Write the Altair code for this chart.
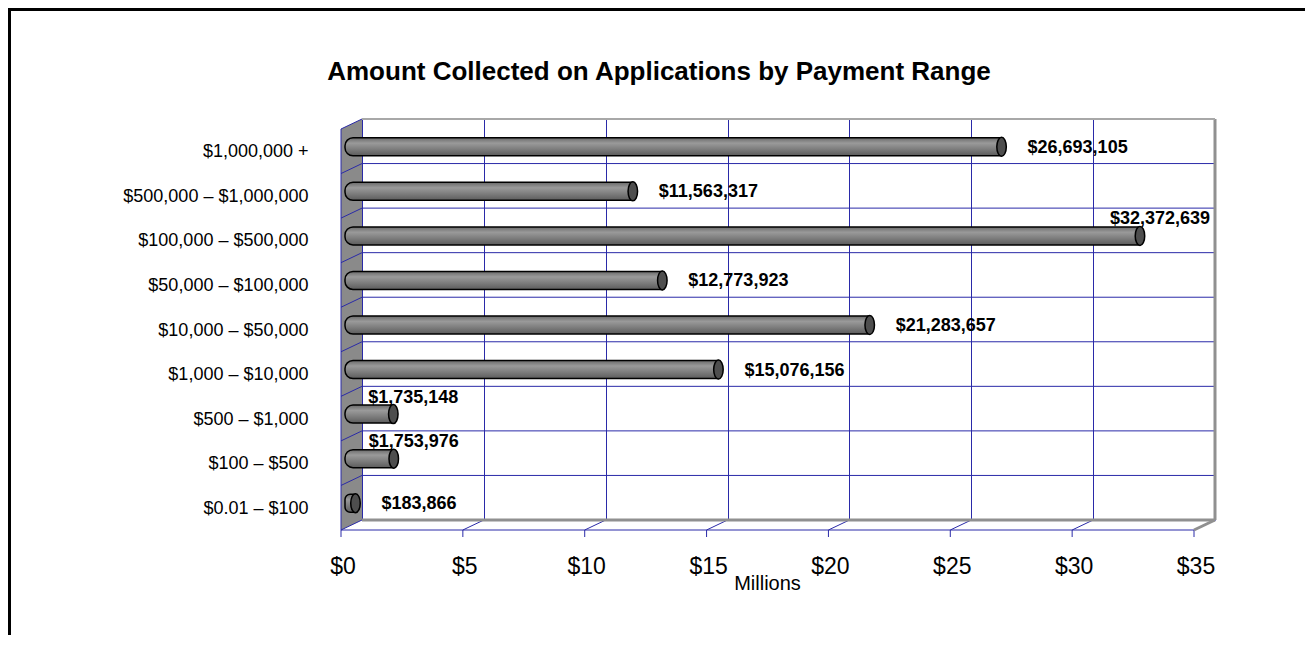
import altair as alt
import pandas as pd

# ---------------- data ----------------
categories = [
    "$1,000,000 +",
    "$500,000 – $1,000,000",
    "$100,000 – $500,000",
    "$50,000 – $100,000",
    "$10,000 – $50,000",
    "$1,000 – $10,000",
    "$500 – $1,000",
    "$100 – $500",
    "$0.01 – $100",
]
amounts = [26693105, 11563317, 32372639, 12773923, 21283657, 15076156, 1735148, 1753976, 183866]
x_ticks = [0, 5, 10, 15, 20, 25, 30, 35]
labels_above = ["$100,000 – $500,000", "$500 – $1,000", "$100 – $500"]
title_text = "Amount Collected on Applications by Payment Range"
x_title = "Millions"

df = pd.DataFrame({"range": categories, "amount": amounts})
df["millions"] = df["amount"] / 1e6
df["label"] = ["${:,}".format(a) for a in amounts]
df["above"] = df["range"].isin(labels_above)

ticks_df = pd.DataFrame({"tick": x_ticks, "bottom": categories[-1]})
edges_df = pd.DataFrame({"top": [categories[0]], "bottom": [categories[-1]]})
mid_df = df.iloc[[len(categories) // 2]]

# ---------------- style ----------------
FONT = "Liberation Sans"
GRID = "#2a2aa8"
WALL = "#8a8a8a"
EDGE = "#909090"
XMAX = x_ticks[-1]
DX, DY = 21, 10          # oblique depth of the 3-D box
W, H = 853, 401
PAD = {"left": 354, "top": 111, "right": 90, "bottom": 115}

ysc = alt.Scale(domain=categories, paddingInner=0, paddingOuter=0)
xsc = alt.Scale(domain=[0, XMAX], nice=False, zero=True)

x_axis = alt.Axis(
    values=x_ticks, labelExpr="'$' + datum.value",
    grid=True, gridColor=GRID, gridWidth=1,
    domain=False, ticks=False, labelFlush=False, labelOverlap=False,
    labelOffset=-19.5, labelPadding=53.5, labelBaseline="alphabetic",
    labelFont=FONT, labelFontSize=23, labelColor="black",
    title=x_title, titleFont=FONT, titleFontSize=20, titleFontWeight="normal",
    titleColor="black", titleX=405, titleY=69, titleBaseline="alphabetic",
    titleAlign="center", titleAnchor="middle",
)
y_axis = alt.Axis(
    title=None, domain=False, ticks=False, tickSize=0, grid=False,
    labelPadding=54, labelOffset=11, labelFont=FONT, labelFontSize=18,
    labelColor="black", labelAlign="right", labelBaseline="middle", labelLimit=400,
)

def xd(v):
    return alt.X(datum=v, type="quantitative", scale=xsc)

def x2d(v):
    return alt.X2(datum=v)

# ---------------- back wall horizontal grid (carries the axes) ----------------
hgrid = alt.Chart(df).mark_rule(color=GRID, strokeWidth=1).encode(
    y=alt.Y("range:N", bandPosition=0, scale=ysc, axis=y_axis, sort=categories),
    x=alt.X(datum=0, type="quantitative", scale=xsc, axis=x_axis),
    x2=x2d(XMAX),
)

# ---------------- left wall ----------------
wall_path = "M-0.0511,-0.9513 L0.0511,-1 L0.0511,0.9513 L-0.0511,1 Z"
left_wall = alt.Chart(mid_df).mark_point(
    shape=wall_path, size=(H + DY) ** 2, filled=True, fill=WALL, opacity=1,
    strokeWidth=0, xOffset=-DX / 2, yOffset=DY / 2,
).encode(
    x=xd(0),
    y=alt.Y("range:N", scale=ysc),
)

wall_diag = alt.Chart(df).mark_rule(
    color=GRID, strokeWidth=1, xOffset=-DX, yOffset=DY
).encode(
    x=xd(0), x2=x2d(0),
    y=alt.Y("range:N", bandPosition=0, scale=ysc),
    y2=alt.Y2("range", bandPosition=0),
)

wall_left_edge = alt.Chart(edges_df).mark_rule(
    color=GRID, strokeWidth=1, xOffset=-DX, yOffset=DY, y2Offset=DY
).encode(
    x=xd(0),
    y=alt.Y("top:N", bandPosition=0, scale=ysc),
    y2=alt.Y2("bottom", bandPosition=1),
)

# ---------------- floor ----------------
floor_diag = alt.Chart(ticks_df).mark_rule(
    color=GRID, strokeWidth=1, x2Offset=-DX, y2Offset=DY
).encode(
    x=alt.X("tick:Q", scale=xsc), x2=alt.X2("tick"),
    y=alt.Y("bottom:N", bandPosition=1, scale=ysc),
    y2=alt.Y2("bottom", bandPosition=1),
)

front_ticks = alt.Chart(ticks_df).mark_rule(
    color=GRID, strokeWidth=1, xOffset=-DX, yOffset=DY, y2Offset=DY + 7
).encode(
    x=alt.X("tick:Q", scale=xsc),
    y=alt.Y("bottom:N", bandPosition=1, scale=ysc),
    y2=alt.Y2("bottom", bandPosition=1),
)

floor_front = alt.Chart(edges_df).mark_rule(
    color=GRID, strokeWidth=1, xOffset=-DX, x2Offset=-DX, yOffset=DY
).encode(
    x=xd(0), x2=x2d(XMAX),
    y=alt.Y("bottom:N", bandPosition=1, scale=ysc),
)

floor_back = alt.Chart(edges_df).mark_rule(color=EDGE, strokeWidth=3).encode(
    x=xd(0), x2=x2d(XMAX),
    y=alt.Y("bottom:N", bandPosition=1, scale=ysc),
)

floor_right = alt.Chart(edges_df).mark_rule(
    color=EDGE, strokeWidth=3, x2Offset=-DX, y2Offset=DY
).encode(
    x=xd(XMAX), x2=x2d(XMAX),
    y=alt.Y("bottom:N", bandPosition=1, scale=ysc),
    y2=alt.Y2("bottom", bandPosition=1),
)

back_right = alt.Chart(edges_df).mark_rule(color=EDGE, strokeWidth=3).encode(
    x=xd(XMAX),
    y=alt.Y("top:N", bandPosition=0, scale=ysc),
    y2=alt.Y2("bottom", bandPosition=1),
)

back_top = alt.Chart(edges_df).mark_rule(color="#a8a8a8", strokeWidth=2).encode(
    x=xd(0), x2=x2d(XMAX),
    y=alt.Y("top:N", bandPosition=0, scale=ysc),
)

# ---------------- bars (cylinders) ----------------
bar_fill = alt.Gradient(
    gradient="linear",
    stops=[
        alt.GradientStop(color="#6a6a6a", offset=0),
        alt.GradientStop(color="#9a9a9a", offset=0.3),
        alt.GradientStop(color="#808080", offset=0.6),
        alt.GradientStop(color="#5c5c5c", offset=1),
    ],
    x1=0, x2=0, y1=0, y2=1,
)

bars = alt.Chart(df).mark_bar(
    height=18, fill=bar_fill, stroke="black", strokeWidth=1.5,
    xOffset=-11, x2Offset=-17, yOffset=5.5,
    cornerRadiusTopLeft=8, cornerRadiusBottomLeft=8,
).encode(
    x=alt.X("millions:Q", scale=xsc),
    x2=alt.X2(datum=0),
    y=alt.Y("range:N", scale=ysc),
)

cap_path = "M0,-1 A0.5,1 0 1,1 0,1 A0.5,1 0 1,1 0,-1 Z"
caps = alt.Chart(df).mark_point(
    shape=cap_path, size=19 ** 2, filled=True, fill="#4e4e4e", stroke="black",
    strokeWidth=1.5, opacity=1, xOffset=-11, yOffset=5.5,
).encode(
    x=alt.X("millions:Q", scale=xsc),
    y=alt.Y("range:N", scale=ysc),
)

labels_right = alt.Chart(df).transform_filter("!datum.above").mark_text(
    align="left", baseline="middle", dx=26, xOffset=-11, yOffset=6.5,
    font=FONT, fontSize=18, fontWeight="bold", color="black",
).encode(
    x=alt.X("millions:Q", scale=xsc),
    y=alt.Y("range:N", scale=ysc),
    text="label:N",
)

labels_top = alt.Chart(df).transform_filter("datum.above").mark_text(
    align="center", baseline="middle", dx=20, dy=-16.5, xOffset=-11, yOffset=5.5,
    font=FONT, fontSize=18, fontWeight="bold", color="black",
).encode(
    x=alt.X("millions:Q", scale=xsc),
    y=alt.Y("range:N", scale=ysc),
    text="label:N",
)

# ---------------- title and outer frame (decoration) ----------------
one = pd.DataFrame({"t": [title_text]})
title = alt.Chart(one).mark_text(
    align="center", baseline="alphabetic", font=FONT, fontSize=26,
    fontWeight="bold", color="black",
).encode(
    x=alt.value(659 - 362), y=alt.value(79.5 - 119), text="t:N",
)
frame_left = alt.Chart(one).mark_rule(color="black", strokeWidth=3).encode(
    x=alt.value(-PAD["left"] + 1.5), y=alt.value(-PAD["top"]),
    y2=alt.value(H + PAD["bottom"]),
)
frame_top = alt.Chart(one).mark_rule(color="black", strokeWidth=3).encode(
    y=alt.value(-PAD["top"] + 1.5), x=alt.value(-PAD["left"]),
    x2=alt.value(W + PAD["right"]),
)

chart = alt.layer(
    hgrid, left_wall, wall_diag, wall_left_edge,
    floor_diag, front_ticks, floor_front, floor_back, floor_right,
    back_right, back_top,
    bars, caps, labels_right, labels_top,
    title, frame_left, frame_top,
).properties(
    width=W, height=H,
    padding=PAD,
    autosize=alt.AutoSizeParams(type="none"),
).configure_view(stroke=None).configure(background="white")

chart.save("out.html", embed_options={"renderer": "svg", "actions": False})
